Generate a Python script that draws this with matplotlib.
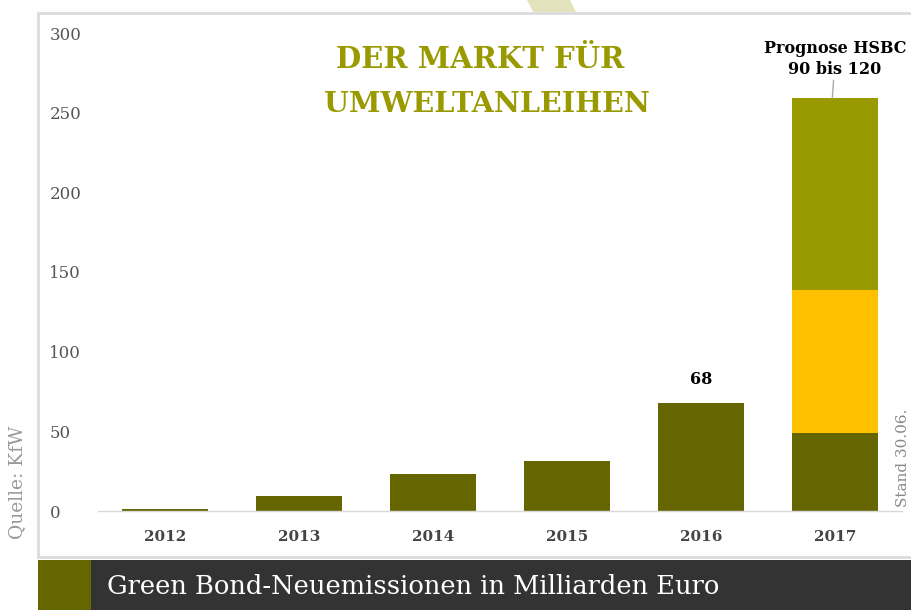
import matplotlib
matplotlib.use("Agg")
import matplotlib.pyplot as plt
from matplotlib.patches import Rectangle, Polygon
import numpy as np

years = ["2012", "2013", "2014", "2015", "2016", "2017"]
issued = [1.5, 9.5, 23, 31.5, 68, 49]
forecast_low = [0, 0, 0, 0, 0, 90]
forecast_high = [0, 0, 0, 0, 0, 120]
yticks = [0, 50, 100, 150, 200, 250, 300]

c_dark = "#666600"
c_yellow = "#FFC000"
c_olive = "#999900"

plt.rcParams["font.family"] = ["DejaVu Serif"]

W, H = 912, 610
fig = plt.figure(figsize=(W / 100, H / 100), dpi=100)

def fx(px):
    return px / W

def fy(py):
    return 1 - py / H

# outer box
fig.patches.append(Rectangle((fx(38), fy(557)), fx(W + 10) - fx(38), fy(13) - fy(557),
                             transform=fig.transFigure, facecolor="white",
                             edgecolor="#dcdcdc", linewidth=2, zorder=-2))
# top sliver
fig.patches.append(Polygon([(fx(527), fy(0)), (fx(570), fy(0)), (fx(576), fy(12)), (fx(533), fy(12))],
                           closed=True, transform=fig.transFigure, facecolor="#e2e2bd",
                           edgecolor="none", zorder=-2))
# bottom band
fig.patches.append(Rectangle((fx(38), 0), fx(91) - fx(38), fy(560),
                             transform=fig.transFigure, facecolor=c_dark, edgecolor="none", zorder=-2))
fig.patches.append(Rectangle((fx(91), 0), 1 - fx(91), fy(560),
                             transform=fig.transFigure, facecolor="#333333", edgecolor="none", zorder=-2))
fig.text(fx(107), fy(587), "Green Bond-Neuemissionen in Milliarden Euro", color="white",
         fontsize=18.5, va="center", ha="left")

ax = fig.add_axes([fx(98), fy(511), fx(902) - fx(98), fy(33) - fy(511)])
ax.set_zorder(1)
ax.set_facecolor("none")
x = np.arange(len(years))
w = 0.64
ax.bar(x, issued, width=w, color=c_dark, zorder=2)
ax.bar(x, forecast_low, width=w, bottom=issued, color=c_yellow, zorder=2)
bottom2 = [a + b for a, b in zip(issued, forecast_low)]
ax.bar(x, forecast_high, width=w, bottom=bottom2, color=c_olive, zorder=2)

ax.set_xlim(-0.5, len(years) - 0.5)
ax.set_ylim(0, 300)
ax.set_yticks(yticks)
ax.set_yticklabels([str(v) for v in yticks], fontsize=12, color="#555555", ha="left")
ax.tick_params(axis="y", length=0, pad=35)
ax.set_xticks(x)
ax.set_xticklabels(years, fontsize=11, fontweight="bold", color="#444444")
ax.tick_params(axis="x", length=0, pad=14)
for s in ["top", "right", "left"]:
    ax.spines[s].set_visible(False)
ax.spines["bottom"].set_color("#d9d9d9")
ax.spines["bottom"].set_linewidth(1)

ax.text(4, issued[4] + 9, "68", ha="center", va="bottom", fontsize=11.5, fontweight="bold")
total = bottom2[5] + forecast_high[5]
ax.annotate("Prognose HSBC\n90 bis 120", xy=(5 - 0.02, total), xytext=(5, total + 13),
            ha="center", va="bottom", fontsize=11.5, fontweight="bold", linespacing=1.3,
            arrowprops=dict(arrowstyle="-", color="#aaaaaa", lw=1, shrinkA=0, shrinkB=0))

fig.text(fx(480), fy(60), "DER MARKT FÜR", ha="center", va="center", fontsize=21,
         fontweight="bold", color=c_olive)
fig.text(fx(487), fy(104), "UMWELTANLEIHEN", ha="center", va="center", fontsize=20.5,
         fontweight="bold", color=c_olive)

fig.text(fx(17), fy(482), "Quelle: KfW", rotation=90, ha="center", va="center",
         fontsize=13.5, color="#999999")
fig.text(fx(903), fy(458), "Stand 30.06.", rotation=90, ha="center", va="center",
         fontsize=11, color="#888888")

fig.savefig("out.png", dpi=100)
